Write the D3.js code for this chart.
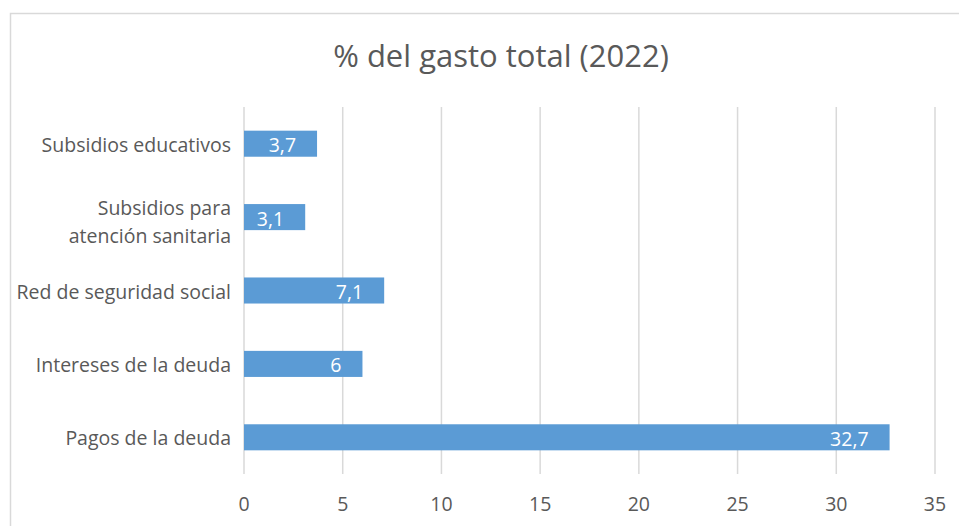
<!DOCTYPE html>
<html>
<head>
<meta charset="utf-8">
<script src="https://cdn.jsdelivr.net/npm/d3@7"></script>
<style>
  body { margin: 0; background: #fff; }
  svg text { font-family: "Open Sans", Lato, sans-serif; fill: #595959; }
</style>
</head>
<body>
<div id="canvas"></div>
<script>
// chart data
var categories = ["Subsidios educativos", "Subsidios para\natención sanitaria", "Red de seguridad social", "Intereses de la deuda", "Pagos de la deuda"];
var values = [3.7, 3.1, 7.1, 6, 32.7];
var labels = ["3,7", "3,1", "7,1", "6", "32,7"];
var ticks = [0, 5, 10, 15, 20, 25, 30, 35];
var title = "% del gasto total (2022)";

var W = 959, H = 526;
var margin = {top: 107, right: 24, bottom: 52, left: 244};

var svg = d3.select("#canvas").append("svg")
  .attr("width", W)
  .attr("height", H);

// outer chart border
svg.append("rect")
  .attr("x", 10.5).attr("y", 13.5)
  .attr("width", W).attr("height", H)
  .attr("fill", "none")
  .attr("stroke", "#d9d9d9")
  .attr("stroke-width", 1.5);

svg.append("text")
  .attr("x", 501).attr("y", 67)
  .attr("text-anchor", "middle")
  .style("font-size", "31px")
  .text(title);

var x = d3.scaleLinear().domain([0, 35]).range([margin.left, W - margin.right]);
var y = d3.scaleBand().domain(categories).range([margin.top, H - margin.bottom]).paddingInner(0.645).paddingOuter(0.3225);

var g = svg.append("g");

// gridlines
g.selectAll(".grid")
  .data(ticks)
  .enter().append("line")
    .attr("class", "grid")
    .attr("x1", function(d) { return x(d); })
    .attr("x2", function(d) { return x(d); })
    .attr("y1", margin.top)
    .attr("y2", H - margin.bottom)
    .attr("stroke", "#d9d9d9")
    .attr("stroke-width", 1.5);

// x tick labels
g.selectAll(".tick-label")
  .data(ticks)
  .enter().append("text")
    .attr("class", "tick-label")
    .attr("x", function(d) { return x(d); })
    .attr("y", 511)
    .attr("text-anchor", "middle")
    .style("font-size", "19.5px")
    .text(function(d) { return d; });

// bars
g.selectAll(".bar")
  .data(values)
  .enter().append("rect")
    .attr("class", "bar")
    .attr("x", x(0))
    .attr("y", function(d, i) { return y(categories[i]); })
    .attr("width", function(d) { return x(d) - x(0); })
    .attr("height", y.bandwidth())
    .attr("fill", "#5b9bd5");

// value labels inside end
g.selectAll(".val")
  .data(values)
  .enter().append("text")
    .attr("class", "val")
    .attr("x", function(d) { return x(d) - 21; })
    .attr("y", function(d, i) { return y(categories[i]) + y.bandwidth() / 2 + 8.5; })
    .attr("text-anchor", "end")
    .style("font-size", "19.5px")
    .style("fill", "#fff")
    .text(function(d, i) { return labels[i]; });

// category labels
var cat = g.selectAll(".cat")
  .data(categories)
  .enter().append("text")
    .attr("class", "cat")
    .attr("text-anchor", "end")
    .style("font-size", "19.5px")
    .attr("y", function(d) { return y(d) + y.bandwidth() / 2 + 8; });

cat.each(function(d) {
  var lines = d.split("\n");
  var t = d3.select(this);
  lines.forEach(function(line, k) {
    t.append("tspan")
      .attr("x", margin.left - 13)
      .attr("dy", k === 0 ? -(lines.length - 1) * 10 : 28)
      .text(line);
  });
});
</script>
</body>
</html>
